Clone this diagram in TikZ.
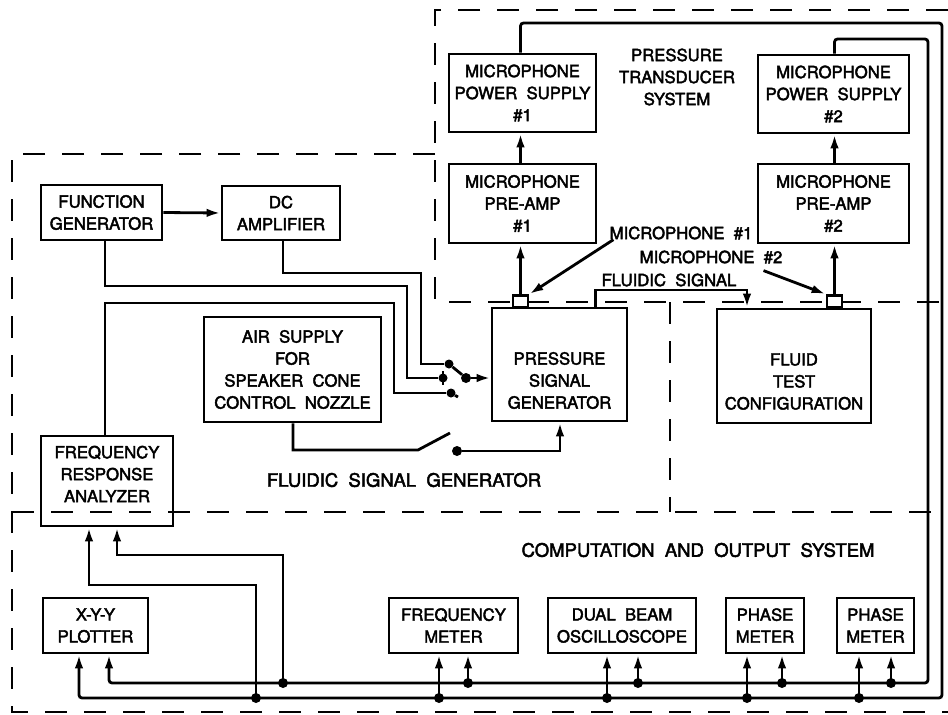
\documentclass[tikz,border=0pt]{standalone}
\usepackage{fontspec}
\setmainfont{TeX Gyre Heros}[WordSpace=2,FakeBold=2.5]
\usetikzlibrary{arrows.meta}
\begin{document}
\begin{tikzpicture}[x=1pt,y=-1pt,
  box/.style={draw,line width=2.8pt,align=center,inner sep=0pt,font=\fontsize{16.7}{22}\selectfont},
  lbl/.style={align=center,inner sep=0pt,font=\fontsize{16.7}{22}\selectfont},
  biglbl/.style={align=center,inner sep=0pt,font=\fontsize{18.5}{22}\selectfont},
  region/.style={line width=2.6pt,dash pattern=on 22pt off 17pt},
  arr/.style={line width=2.8pt,-{Latex[length=14pt,width=8.5pt]}},
  wire/.style={line width=2.8pt},
  jdot/.style={circle,fill,inner sep=0pt,minimum size=10pt},
  mic/.style={draw,fill=white,line width=2.8pt,minimum width=15pt,minimum height=12pt,inner sep=0pt}
]
\useasboundingbox (0,0) rectangle (948,715);

% dashed system boundaries
\draw[region] (948,10) -- (435,10) -- (435,302) -- (948,302);
\draw[region] (435,154) -- (12,154) -- (12,712) -- (948,712);
\draw[region] (12,512) -- (948,512);
\draw[region] (670,302) -- (670,512);

% boxes
\node[box,minimum width=121pt,minimum height=55pt] (fg) at (101.5,212.5) {FUNCTION\\GENERATOR};
\node[box,minimum width=118pt,minimum height=54pt] (dc) at (281,213) {DC\\AMPLIFIER};
\node[box,minimum width=147pt,minimum height=78pt] (ps1) at (522.5,93) {MICROPHONE\\POWER SUPPLY\\\#1};
\node[box,minimum width=151pt,minimum height=78pt] (ps2) at (833.5,94) {MICROPHONE\\POWER SUPPLY\\\#2};
\node[box,minimum width=147pt,minimum height=79pt] (pa1) at (522.5,203.5) {MICROPHONE\\PRE-AMP\\\#1};
\node[box,minimum width=151pt,minimum height=79pt] (pa2) at (833.5,203.5) {MICROPHONE\\PRE-AMP\\\#2};
\node[box,minimum width=177pt,minimum height=105pt] (air) at (292.5,369.5) {AIR SUPPLY\\FOR\\SPEAKER CONE\\CONTROL NOZZLE};
\node[box,minimum width=135pt,minimum height=113pt] (psg) at (559.5,364.5) {};
\node[lbl] (psgt) at (559.5,380.5) {PRESSURE\\SIGNAL\\GENERATOR};
\node[box,minimum width=154pt,minimum height=114pt] (ftc) at (794,366) {};
\node[lbl] (ftct) at (794,381.5) {FLUID\\TEST\\CONFIGURATION};
\node[box,minimum width=132pt,minimum height=90pt] (fra) at (107,481) {};
\node[lbl] (frat) at (107,474) {FREQUENCY\\RESPONSE\\ANALYZER};
\node[box,minimum width=105pt,minimum height=55pt] (xyy) at (95.5,625.5) {X-Y-Y\\PLOTTER};
\node[box,minimum width=129pt,minimum height=55pt] (fm) at (453.5,625.5) {FREQUENCY\\METER};
\node[box,minimum width=148pt,minimum height=55pt] (osc) at (622,625.5) {DUAL BEAM\\OSCILLOSCOPE};
\node[box,minimum width=78pt,minimum height=55pt] (ph1) at (765,625.5) {PHASE\\METER};
\node[box,minimum width=77pt,minimum height=55pt] (ph2) at (875.5,625.5) {PHASE\\METER};

% microphones
\node[mic] (m1) at (520.5,301.5) {};
\node[mic] (m2) at (834.5,301.5) {};

% labels
\node[lbl] (lpt) at (677,77) {PRESSURE\\TRANSDUCER\\SYSTEM};
\node[biglbl] (lfsg) at (404,480) {FLUIDIC SIGNAL GENERATOR};
\node[biglbl] (lcomp) at (698,550) {COMPUTATION AND OUTPUT SYSTEM};
\node[lbl] (lm1) at (681,233) {MICROPHONE \#1};
\node[lbl] (lm2) at (711,257) {MICROPHONE \#2};
\node[lbl] (lfs) at (669,280) {FLUIDIC SIGNAL};

% switch contacts
\node[jdot,minimum size=9pt] (c1) at (449,364) {};
\node[jdot,minimum size=9pt] (c2) at (443,378) {};
\node[jdot,minimum size=9pt] (c3) at (451,393) {};
\node[jdot] (pv) at (466,378) {};
\node[jdot] (sd) at (457,451) {};
\coordinate (blade) at (450,433);

% fluidic generator connections
\draw[arr] (fg.east) -- (dc.west);
\draw[wire] ([xshift=3.5]fg.south) |- (407,286) |- (c2);
\draw[wire] ([xshift=2]dc.south) |- (421,273) |- (c1);
\draw[wire] ([xshift=-2]fra.north) |- (394,303) |- (c3);
\draw[wire] (c1) -- (pv);
\draw[wire] ([yshift=7]c2.center) -- ([yshift=-7]c2.center);
\draw[wire] (c3) -- ++(7,4);
\draw[arr] (pv) -- (pv -| psg.west);
\draw[wire] ([xshift=0.5]air.south) |- (418,450) -- (blade);
\draw[arr] (sd) -| ([xshift=0.5]psg.south);

% pressure transducer connections
\draw[arr] (m1.north) -- (m1 |- pa1.south);
\draw[arr] (m1 |- pa1.north) -- (m1 |- ps1.south);
\draw[arr] (m2.north) -- (m2 |- pa2.south);
\draw[arr] (m2 |- pa2.north) -- (m2 |- ps2.south);
\draw[arr] ([xshift=4]lm1.south west) -- (m1.north east);
\draw[arr] ([xshift=-19,yshift=-7]lm2.south east) -- (m2.north west);
\draw[arr] ([xshift=36]psg.north) |- (747,290) -- ([xshift=-47]ftc.north);

% output buses
\draw[arr,rounded corners=3] (m1 |- ps1.north) |- (942,23) |- (79,698) -- ([xshift=-16.5]xyy.south);
\draw[arr,rounded corners=3] (m2 |- ps2.north) |- (928,39) |- (109,683) -- ([xshift=13.5]xyy.south);

\node[jdot] (lb1) at (256,698) {};
\node[jdot] (lb2) at (439,698) {};
\node[jdot] (lb3) at (607,698) {};
\node[jdot] (lb4) at (747,698) {};
\node[jdot] (lb5) at (859,698) {};
\node[jdot] (ub1) at (283,683) {};
\node[jdot] (ub2) at (468,683) {};
\node[jdot] (ub3) at (638,683) {};
\node[jdot] (ub4) at (782,683) {};
\node[jdot] (ub5) at (891,683) {};

\draw[arr] (lb1.center) |- (89,585) -- ([xshift=-18]fra.south);
\draw[arr] (ub1.center) |- (117,555) -- ([xshift=10]fra.south);
\draw[arr] (lb2.center) -- (lb2 |- fm.south);
\draw[arr] (ub2.center) -- (ub2 |- fm.south);
\draw[arr] (lb3.center) -- (lb3 |- osc.south);
\draw[arr] (ub3.center) -- (ub3 |- osc.south);
\draw[arr] (lb4.center) -- (lb4 |- ph1.south);
\draw[arr] (ub4.center) -- (ub4 |- ph1.south);
\draw[arr] (lb5.center) -- (lb5 |- ph2.south);
\draw[arr] (ub5.center) -- (ub5 |- ph2.south);
\end{tikzpicture}
\end{document}
